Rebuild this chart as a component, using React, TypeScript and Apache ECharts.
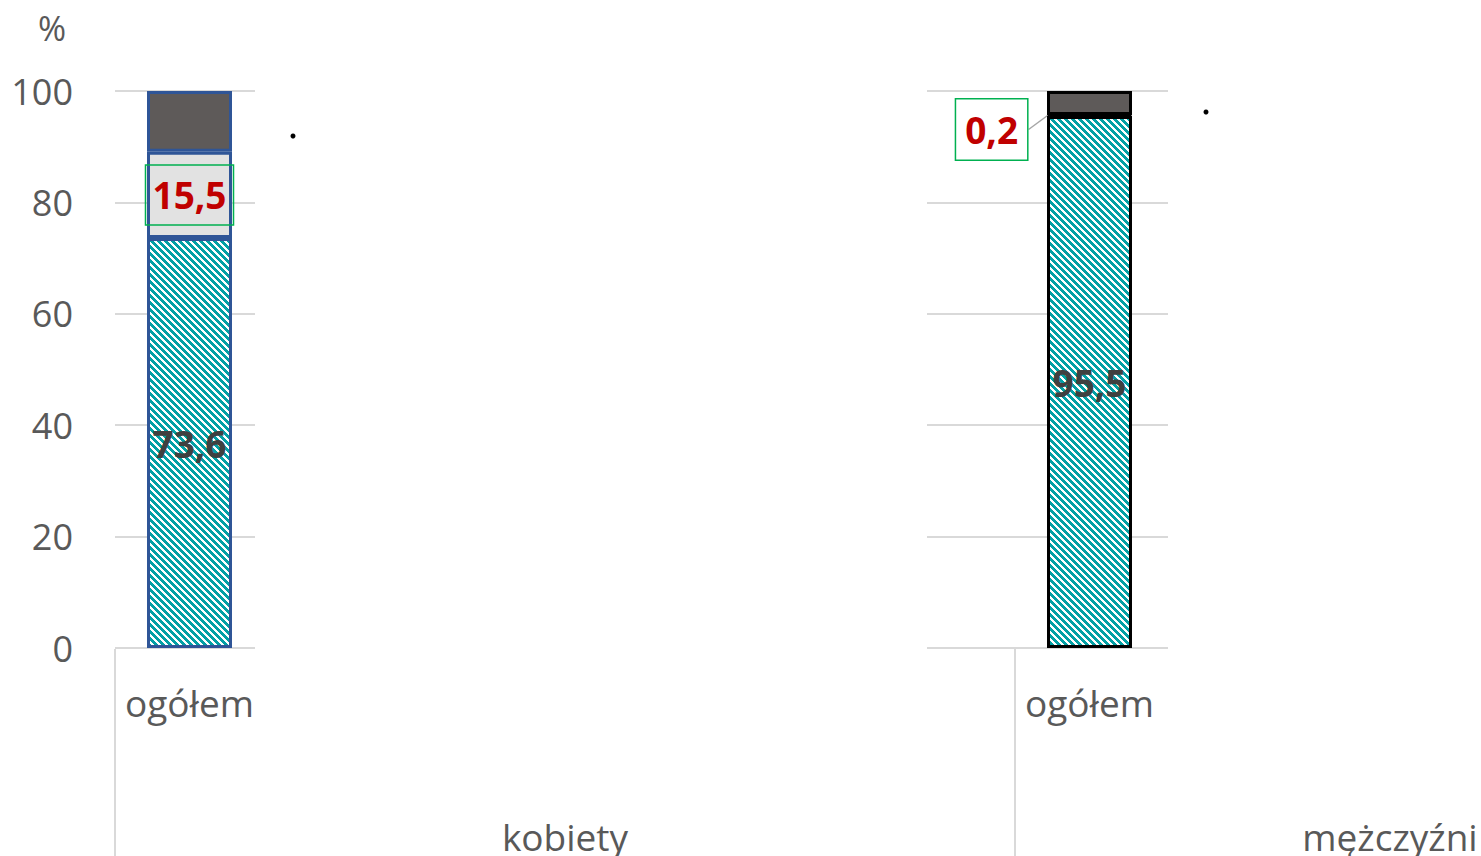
import React, { useEffect, useRef } from "react";
import * as echarts from "echarts";

// ---- data ----
const SUBCATEGORIES = ["ogółem"];
const GROUPS = ["kobiety", "mężczyźni"];
const SERIES_NAMES = ["seg1", "seg2", "seg3"];
const WOMEN_VALUES = [73.6, 15.5, 10.9];
const MEN_VALUES = [95.5, 0.2, 4.3];
const Y_MIN = 0;
const Y_MAX = 100;
const Y_INTERVAL = 20;
const Y_UNIT = "%";

const FONT = "'Open Sans', 'Noto Sans', sans-serif";
const TEXT_GRAY = "#595959";
const GRID_GRAY = "#D9D9D9";
const TEAL = "#03A0A5";
const LIGHT = "#E2E2E2";
const DARK = "#5E5A59";
const RED = "#C00000";
const GREEN = "#00B050";

function makeHatch(fg: string) {
  const c = document.createElement("canvas");
  const n = 7;
  c.width = n;
  c.height = n;
  const ctx = c.getContext("2d")!;
  ctx.fillStyle = "#ffffff";
  ctx.fillRect(0, 0, n, n);
  ctx.fillStyle = fg;
  for (let y = 0; y < n; y++)
    for (let x = 0; x < n; x++)
      if ((((x - y) % n) + n) % n < 4) ctx.fillRect(x, y, 1, 1);
  return c;
}

const fmt = (v: number) => String(v).replace(".", ",");

export default function App() {
  const ref = useRef<HTMLDivElement>(null);
  useEffect(() => {
    if (!ref.current) return;
    const chart = echarts.init(ref.current, null, { renderer: "svg" });
    const hatch = makeHatch(TEAL);
    const hatchColor: any = { image: hatch, repeat: "repeat", imageWidth: 7, imageHeight: 7 };

    const top = 91;
    const height = 557;
    const grids = [
      { left: 115, top, width: 140, height }, // 0: women gridlines
      { left: 115, top, width: 149, height }, // 1: women bars
      { left: 927, top, width: 241, height }, // 2: men gridlines
      { left: 1015, top, width: 149, height }, // 3: men bars
    ];

    const yAxes = grids.map((_, i) => ({
      type: "value",
      gridIndex: i,
      min: Y_MIN,
      max: Y_MAX,
      interval: Y_INTERVAL,
      axisLine: { show: false },
      axisTick: { show: false },
      axisLabel: {
        show: i === 0,
        fontFamily: FONT,
        fontSize: 36,
        color: TEXT_GRAY,
        margin: 42,
      },
      splitLine: {
        show: i === 0 || i === 2,
        lineStyle: { color: GRID_GRAY, width: 2 },
      },
    }));

    const xAxes = grids.map((_, i) => ({
      type: "category",
      gridIndex: i,
      data: SUBCATEGORIES,
      axisLine: { show: false },
      axisTick: { show: false },
      axisLabel: {
        show: i === 1 || i === 3,
        fontFamily: FONT,
        fontSize: 37,
        color: TEXT_GRAY,
        margin: 36,
      },
      splitLine: { show: false },
    }));

    const segColors = [hatchColor, LIGHT, DARK];
    const mkSeries = (values: number[], axisIdx: number, border: string, stack: string) =>
      values.map((v, k) => {
        const s: any = {
          type: "bar",
          name: SERIES_NAMES[k],
          stack,
          xAxisIndex: axisIdx,
          yAxisIndex: axisIdx,
          barWidth: 85,
          data: [v],
          itemStyle: { color: segColors[k], borderColor: border, borderWidth: 3 },
          label: { show: false },
        };
        return s;
      });

    const valueLabel = {
      show: true,
      position: "inside",
      formatter: (p: any) => fmt(p.value),
      fontFamily: FONT,
      fontWeight: "bold",
      fontSize: 37,
      color: "#404040",
    };

    const women = mkSeries(WOMEN_VALUES, 1, "#2F5597", "w");
    women[0].label = valueLabel;
    women[1].label = {
      show: true,
      position: "inside",
      formatter: (p: any) => fmt(p.value),
      fontFamily: FONT,
      fontWeight: "bold",
      fontSize: 37,
      lineHeight: 36,
      color: RED,
      borderColor: GREEN,
      borderWidth: 1.5,
      padding: [12, 7, 12, 7],
    };

    const men = mkSeries(MEN_VALUES, 3, "#000000", "m");
    men[0].label = valueLabel;
    men[1].label = {
      show: true,
      position: "left",
      distance: 19,
      formatter: (p: any) => fmt(p.value),
      fontFamily: FONT,
      fontWeight: "bold",
      fontSize: 37,
      lineHeight: 36,
      color: RED,
      borderColor: GREEN,
      borderWidth: 1.5,
      backgroundColor: "#ffffff",
      padding: [12, 9, 12, 9],
    };
    men[1].labelLine = { show: true, lineStyle: { color: "#A6A6A6", width: 1.5 } };
    men[1].labelLayout = { dy: 14 };

    const groupLayout = [
      { cx: 565, sepX: 115 },
      { cx: 1390, sepX: 1015 },
    ];
    const graphics: any[] = [];
    GROUPS.forEach((g, i) => {
      graphics.push({
        type: "text",
        x: groupLayout[i].cx,
        y: 836,
        style: {
          text: g,
          fontFamily: FONT,
          fontSize: 37,
          fill: TEXT_GRAY,
          align: "center",
          verticalAlign: "middle",
        },
      });
      graphics.push({
        type: "line",
        shape: { x1: groupLayout[i].sepX, y1: 649, x2: groupLayout[i].sepX, y2: 860 },
        style: { stroke: GRID_GRAY, lineWidth: 2 },
      });
    });
    graphics.push({
      type: "text",
      x: 52,
      y: 28,
      style: {
        text: Y_UNIT,
        fontFamily: FONT,
        fontSize: 34,
        fill: TEXT_GRAY,
        align: "center",
        verticalAlign: "middle",
      },
    });
    graphics.push({ type: "circle", shape: { cx: 293, cy: 136, r: 2.5 }, style: { fill: "#000" } });
    graphics.push({ type: "circle", shape: { cx: 1206, cy: 112, r: 2.5 }, style: { fill: "#000" } });

    chart.setOption({
      animation: false,
      grid: grids,
      xAxis: xAxes,
      yAxis: yAxes,
      series: [...women, ...men],
      graphic: graphics,
    });
    return () => chart.dispose();
  }, []);

  return (
    <div
      ref={ref}
      style={{ position: "fixed", left: 0, top: 0, width: 1481, height: 856, background: "#fff" }}
    />
  );
}
